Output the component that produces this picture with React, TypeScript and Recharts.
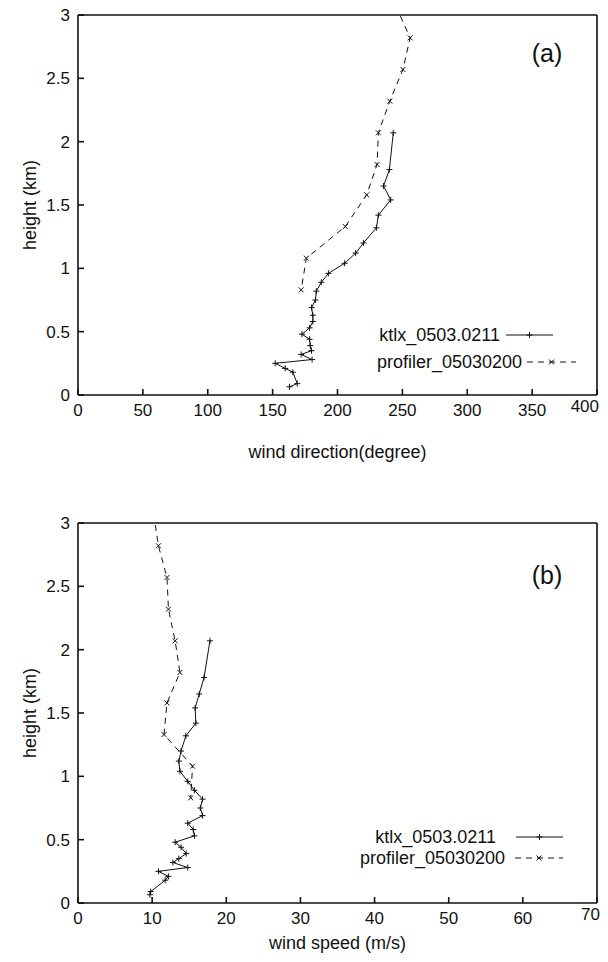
import { ComposedChart, Legend, Line, XAxis, YAxis } from "recharts";

// ktlx radar-derived profile (0503.0211)
const ktlxHeight = [2.07, 1.78, 1.65, 1.54, 1.42, 1.32, 1.2, 1.12, 1.04, 0.96, 0.89, 0.82, 0.75, 0.69, 0.63, 0.58, 0.53, 0.48, 0.44, 0.39, 0.35, 0.32, 0.28, 0.25, 0.21, 0.18, 0.09, 0.065];
const ktlxDirection = [243, 240, 235.5, 241, 231.5, 230, 220, 214, 205.5, 193, 187.5, 183.7, 183, 180, 181, 181, 178.5, 172.6, 178.5, 179, 180, 172, 180.4, 152, 159.7, 165.6, 169, 163];
const ktlxSpeed = [17.8, 17.0, 16.35, 15.8, 15.9, 14.55, 13.9, 13.6, 13.75, 14.8, 15.7, 16.8, 16.5, 16.8, 14.8, 15.55, 15.7, 13.1, 13.9, 14.6, 13.6, 12.8, 14.8, 10.85, 12.2, 11.76, 9.8, 9.7];

// wind profiler (05030200)
const profilerHeight = [3.07, 2.82, 2.57, 2.32, 2.07, 1.82, 1.58, 1.33, 1.08, 0.83];
const profilerDirection = [245, 256, 250.4, 240.3, 231.5, 230.5, 222.5, 206, 176, 172];
const profilerSpeed = [10.2, 10.85, 12.0, 12.2, 13.1, 13.75, 12.0, 11.6, 15.45, 15.2];

const heightTicks = [0, 0.5, 1, 1.5, 2, 2.5, 3];
const directionTicks = [0, 50, 100, 150, 200, 250, 300, 350, 400];
const speedTicks = [0, 10, 20, 30, 40, 50, 60, 70];

const FONT = '"Liberation Sans", Arial, Helvetica, sans-serif';
const INK = "#111";

const zip = (xs: number[], hs: number[]) => xs.map((v, i) => ({ v, h: hs[i] }));

function PlusDot(p: any) {
  const { cx, cy, index } = p;
  if (cx == null || cy == null) return <g key={index} />;
  return (
    <path
      key={index}
      d={`M${cx - 3},${cy}H${cx + 3}M${cx},${cy - 3}V${cy + 3}`}
      stroke={INK}
      strokeWidth={1}
      fill="none"
    />
  );
}

function CrossDot(p: any) {
  const { cx, cy, index } = p;
  if (cx == null || cy == null) return <g key={index} />;
  return (
    <path
      key={index}
      d={`M${cx - 2.5},${cy - 2.5}L${cx + 2.5},${cy + 2.5}M${cx - 2.5},${cy + 2.5}L${cx + 2.5},${cy - 2.5}`}
      stroke={INK}
      strokeWidth={1}
      fill="none"
    />
  );
}

// gnuplot pushes the last label inside the frame
const xTick = (max: number) => (p: any) => {
  const { x, y, payload } = p;
  const last = payload.value === max;
  return (
    <text
      x={last ? x + 3 : x}
      y={last ? y - 4 : y}
      dy="0.71em"
      textAnchor={last ? "end" : "middle"}
      fill={INK}
      fontSize={17}
      fontFamily={FONT}
    >
      {payload.value}
    </text>
  );
};

type PanelProps = {
  tag: string;
  height: number;
  top: number; // plot top inside chart
  bottom: number; // plot bottom inside chart
  xMax: number;
  xTicks: number[];
  xTitle: string;
  xTitleY: number;
  ktlx: { v: number; h: number }[];
  profiler: { v: number; h: number }[];
  legend: { ky: number; kEnd: number; kLine: [number, number]; py: number; pEnd: number; pLine: [number, number] };
  tagY: number;
};

function Panel(props: PanelProps) {
  const { tag, height, top, bottom, xMax, xTicks, xTitle, xTitleY, ktlx, profiler, legend, tagY } = props;
  const plotLeft = 78;
  const plotRight = 597;
  const midX = (plotLeft + plotRight) / 2;
  const midY = (top + bottom) / 2;
  const bottomAxisH = 40;

  const overlay = () => (
    <svg width={608} height={height} style={{ display: "block" }}>
      <g fontFamily={FONT} fill={INK} fontSize={18}>
        <text x={30} y={midY} dy="0.35em" textAnchor="middle" transform={`rotate(-90 30 ${midY})`}>
          height (km)
        </text>
        <text x={midX} y={xTitleY} dy="0.35em" textAnchor="middle">
          {xTitle}
        </text>
        <text x={legend.kEnd} y={legend.ky} dy="0.35em" textAnchor="end">
          ktlx_0503.0211
        </text>
        <text x={legend.pEnd} y={legend.py} dy="0.35em" textAnchor="end">
          profiler_05030200
        </text>
        <text x={547} y={tagY} dy="0.35em" textAnchor="middle" fontSize={25}>
          {tag}
        </text>
      </g>
      <line x1={legend.kLine[0]} x2={legend.kLine[1]} y1={legend.ky} y2={legend.ky} stroke={INK} strokeWidth={1} />
      <PlusDot cx={(legend.kLine[0] + legend.kLine[1]) / 2} cy={legend.ky} index="lk" />
      <line
        x1={legend.pLine[0]}
        x2={legend.pLine[1]}
        y1={legend.py}
        y2={legend.py}
        stroke={INK}
        strokeWidth={1}
        strokeDasharray="6 5"
      />
      <CrossDot cx={(legend.pLine[0] + legend.pLine[1]) / 2} cy={legend.py} index="lp" />
    </svg>
  );

  return (
    <ComposedChart
      width={608}
      height={height}
      margin={{ top: top - 5, right: 608 - plotRight - 5, bottom: height - bottom - bottomAxisH, left: 0 }}
    >
      <XAxis
        dataKey="v"
        type="number"
        domain={[0, xMax]}
        ticks={xTicks}
        allowDataOverflow
        height={bottomAxisH}
        tickSize={-6}
        tickMargin={15}
        tick={xTick(xMax)}
        axisLine={{ stroke: INK, strokeWidth: 1.6 }}
        tickLine={{ stroke: INK, strokeWidth: 1.6 }}
      />
      <XAxis
        xAxisId="top"
        orientation="top"
        type="number"
        domain={[0, xMax]}
        ticks={xTicks}
        allowDataOverflow
        height={5}
        tickSize={-6}
        tick={false}
        axisLine={{ stroke: INK, strokeWidth: 1.6 }}
        tickLine={{ stroke: INK, strokeWidth: 1.6 }}
      />
      <YAxis
        type="number"
        domain={[0, 3]}
        ticks={heightTicks}
        allowDataOverflow
        width={plotLeft}
        tickSize={-6}
        tickMargin={14}
        tick={{ fill: INK, fontSize: 17, fontFamily: FONT }}
        axisLine={{ stroke: INK, strokeWidth: 1.6 }}
        tickLine={{ stroke: INK, strokeWidth: 1.6 }}
      />
      <YAxis
        yAxisId="right"
        orientation="right"
        type="number"
        domain={[0, 3]}
        ticks={heightTicks}
        allowDataOverflow
        width={5}
        tickSize={-6}
        tick={false}
        axisLine={{ stroke: INK, strokeWidth: 1.6 }}
        tickLine={{ stroke: INK, strokeWidth: 1.6 }}
      />
      <Legend
        layout="horizontal"
        verticalAlign="middle"
        align="center"
        wrapperStyle={{ left: 0, top: 0, width: 608, height, pointerEvents: "none" }}
        content={overlay}
      />
      <Line
        data={ktlx}
        dataKey="h"
        name="ktlx_0503.0211"
        type="linear"
        stroke={INK}
        strokeWidth={1}
        dot={PlusDot}
        activeDot={false}
        isAnimationActive={false}
      />
      <Line
        data={profiler}
        dataKey="h"
        name="profiler_05030200"
        type="linear"
        stroke={INK}
        strokeWidth={1}
        strokeDasharray="6 5"
        dot={CrossDot}
        activeDot={false}
        isAnimationActive={false}
      />
    </ComposedChart>
  );
}

export default function App() {
  return (
    <div style={{ position: "absolute", left: 0, top: 0, width: 608, height: 962, background: "#fff" }}>
      <Panel
        tag="(a)"
        height={470}
        top={15}
        bottom={395}
        xMax={400}
        xTicks={directionTicks}
        xTitle="wind direction(degree)"
        xTitleY={452}
        ktlx={zip(ktlxDirection, ktlxHeight)}
        profiler={zip(profilerDirection, profilerHeight)}
        legend={{ ky: 335, kEnd: 500, kLine: [506, 553], py: 362, pEnd: 522, pLine: [527, 576] }}
        tagY={53}
      />
      <Panel
        tag="(b)"
        height={492}
        top={53}
        bottom={433}
        xMax={70}
        xTicks={speedTicks}
        xTitle="wind speed (m/s)"
        xTitleY={473}
        ktlx={zip(ktlxSpeed, ktlxHeight)}
        profiler={zip(profilerSpeed, profilerHeight)}
        legend={{ ky: 367, kEnd: 496, kLine: [516, 563], py: 388, pEnd: 505, pLine: [515, 563] }}
        tagY={105}
      />
    </div>
  );
}
